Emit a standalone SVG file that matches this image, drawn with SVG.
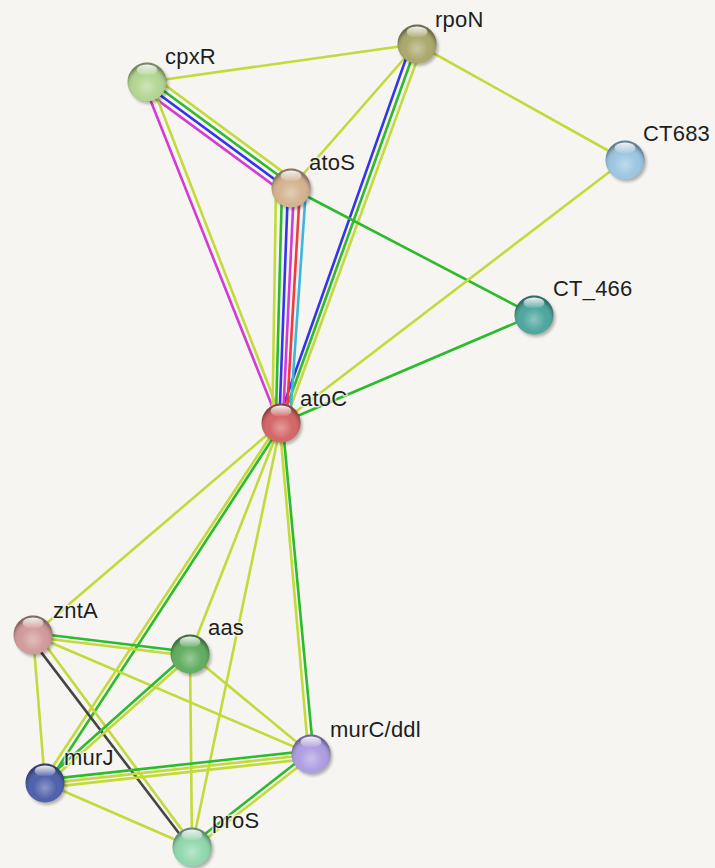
<svg xmlns="http://www.w3.org/2000/svg" width="715" height="868" viewBox="0 0 715 868">
<defs>
<style>
.e line{stroke-width:2.6;fill:none;stroke-linecap:round}
.Y{stroke:#c3da3a}
.G{stroke:#2bbb2b}
.B{stroke:#3434ee}
.M{stroke:#d23cd2}
.R{stroke:#f43a3a}
.C{stroke:#3db6de}
.K{stroke:#454545}
.lbl{font-family:"Liberation Sans",Arial,sans-serif;font-size:22px;fill:#1e1e1e;letter-spacing:0.2px;paint-order:stroke;stroke:#f6f5f1;stroke-opacity:0.75;stroke-width:3px}
.shade{fill:url(#shade)}
.hl{fill:url(#hl)}
.sh{fill:#000;opacity:0.28;filter:url(#blur)}
</style>
<radialGradient id="shade" cx="0.5" cy="0.62" r="0.55">
<stop offset="0" stop-color="#fff" stop-opacity="0.35"/>
<stop offset="0.55" stop-color="#fff" stop-opacity="0"/>
<stop offset="0.85" stop-color="#000" stop-opacity="0.08"/>
<stop offset="1" stop-color="#000" stop-opacity="0.35"/>
</radialGradient>
<linearGradient id="hl" x1="0" y1="0" x2="0" y2="1">
<stop offset="0" stop-color="#fff" stop-opacity="0.95"/>
<stop offset="1" stop-color="#fff" stop-opacity="0.05"/>
</linearGradient>
<filter id="blur" x="-50%" y="-50%" width="200%" height="200%"><feGaussianBlur stdDeviation="1.6"/></filter>
</defs>
<rect width="715" height="868" fill="#f6f5f1"/>
<g id="edges" class="e">
<line class="Y" x1="147" y1="82" x2="417" y2="44"/>
<line class="Y" x1="151.9" y1="75.4" x2="295.9" y2="181.4"/>
<line class="G" x1="148.6" y1="79.8" x2="292.6" y2="185.8"/>
<line class="B" x1="145.4" y1="84.2" x2="289.4" y2="190.2"/>
<line class="M" x1="142.1" y1="88.6" x2="286.1" y2="194.6"/>
<line class="M" x1="143.7" y1="83.3" x2="279.1" y2="423.7"/>
<line class="Y" x1="150.3" y1="80.7" x2="282.9" y2="422.3"/>
<line class="Y" x1="417" y1="44" x2="291" y2="188"/>
<line class="B" x1="411.8" y1="42.1" x2="277.7" y2="421.8"/>
<line class="G" x1="417" y1="44" x2="281" y2="423"/>
<line class="Y" x1="422.2" y1="45.9" x2="284.3" y2="424.2"/>
<line class="Y" x1="417" y1="44" x2="625" y2="160"/>
<line class="Y" x1="276" y1="187.4" x2="272.3" y2="422.6"/>
<line class="G" x1="282" y1="187.6" x2="275.8" y2="422.8"/>
<line class="B" x1="288" y1="187.9" x2="279.3" y2="422.9"/>
<line class="M" x1="294" y1="188.1" x2="282.8" y2="423.1"/>
<line class="R" x1="300" y1="188.4" x2="286.3" y2="423.2"/>
<line class="C" x1="306" y1="188.6" x2="289.8" y2="423.4"/>
<line class="G" x1="291" y1="188" x2="534" y2="315"/>
<line class="Y" x1="625" y1="160" x2="281" y2="423"/>
<line class="G" x1="534" y1="315" x2="281" y2="423"/>
<line class="Y" x1="281" y1="423" x2="33" y2="635"/>
<line class="Y" x1="279.7" y1="422.2" x2="42.9" y2="781.6"/>
<line class="G" x1="282.3" y1="423.8" x2="47.1" y2="784.4"/>
<line class="Y" x1="281" y1="423" x2="190" y2="654"/>
<line class="Y" x1="281" y1="423" x2="192" y2="847"/>
<line class="Y" x1="279.5" y1="423.1" x2="308.5" y2="754.2"/>
<line class="G" x1="282.5" y1="422.9" x2="313.5" y2="753.8"/>
<line class="G" x1="33.2" y1="633.0" x2="190.2" y2="652.0"/>
<line class="Y" x1="32.8" y1="637.0" x2="189.8" y2="656.0"/>
<line class="Y" x1="33" y1="635" x2="45" y2="783"/>
<line class="K" x1="29.8" y1="637.4" x2="190.4" y2="848.2"/>
<line class="Y" x1="36.2" y1="632.6" x2="193.6" y2="845.8"/>
<line class="Y" x1="33" y1="635" x2="311" y2="754"/>
<line class="G" x1="188.7" y1="652.5" x2="43.7" y2="781.5"/>
<line class="Y" x1="191.3" y1="655.5" x2="46.3" y2="784.5"/>
<line class="Y" x1="190" y1="654" x2="192" y2="847"/>
<line class="Y" x1="190" y1="654" x2="311" y2="754"/>
<line class="G" x1="44.6" y1="779.6" x2="310.6" y2="750.6"/>
<line class="Y" x1="45.0" y1="783.6" x2="311.0" y2="754.6"/>
<line class="Y" x1="45.4" y1="787.6" x2="311.4" y2="758.6"/>
<line class="Y" x1="45" y1="783" x2="192" y2="847"/>
<line class="G" x1="309.6" y1="752.2" x2="190.6" y2="845.2"/>
<line class="Y" x1="312.4" y1="755.8" x2="193.4" y2="848.8"/>
</g>
<g id="node-cpxR"><circle class="sh" cx="149" cy="84.5" r="19.5"/><circle cx="147" cy="82" r="19.5" fill="#b3d693"/><circle class="shade" cx="147" cy="82" r="19.5"/><ellipse class="hl" cx="147" cy="70" rx="10.5" ry="5.5"/><text class="lbl" x="165" y="64">cpxR</text></g>
<g id="node-rpoN"><circle class="sh" cx="419" cy="46.5" r="19.5"/><circle cx="417" cy="44" r="19.5" fill="#aca96c"/><circle class="shade" cx="417" cy="44" r="19.5"/><ellipse class="hl" cx="417" cy="32" rx="10.5" ry="5.5"/><text class="lbl" x="435" y="27">rpoN</text></g>
<g id="node-atoS"><circle class="sh" cx="293" cy="190.5" r="19.5"/><circle cx="291" cy="188" r="19.5" fill="#d4b391"/><circle class="shade" cx="291" cy="188" r="19.5"/><ellipse class="hl" cx="291" cy="176" rx="10.5" ry="5.5"/><text class="lbl" x="309" y="170">atoS</text></g>
<g id="node-CT683"><circle class="sh" cx="627" cy="162.5" r="19.5"/><circle cx="625" cy="160" r="19.5" fill="#9cc6e2"/><circle class="shade" cx="625" cy="160" r="19.5"/><ellipse class="hl" cx="625" cy="148" rx="10.5" ry="5.5"/><text class="lbl" x="643" y="141">CT683</text></g>
<g id="node-CT_466"><circle class="sh" cx="536" cy="317.5" r="19.5"/><circle cx="534" cy="315" r="19.5" fill="#4ea79f"/><circle class="shade" cx="534" cy="315" r="19.5"/><ellipse class="hl" cx="534" cy="303" rx="10.5" ry="5.5"/><text class="lbl" x="553" y="296">CT_466</text></g>
<g id="node-atoC"><circle class="sh" cx="283" cy="425.5" r="19.5"/><circle cx="281" cy="423" r="19.5" fill="#d46767"/><circle class="shade" cx="281" cy="423" r="19.5"/><ellipse class="hl" cx="281" cy="411" rx="10.5" ry="5.5"/><text class="lbl" x="300" y="406">atoC</text></g>
<g id="node-zntA"><circle class="sh" cx="35" cy="637.5" r="19.5"/><circle cx="33" cy="635" r="19.5" fill="#d29b9b"/><circle class="shade" cx="33" cy="635" r="19.5"/><ellipse class="hl" cx="33" cy="623" rx="10.5" ry="5.5"/><text class="lbl" x="53" y="618">zntA</text></g>
<g id="node-aas"><circle class="sh" cx="192" cy="656.5" r="19.5"/><circle cx="190" cy="654" r="19.5" fill="#62ae62"/><circle class="shade" cx="190" cy="654" r="19.5"/><ellipse class="hl" cx="190" cy="642" rx="10.5" ry="5.5"/><text class="lbl" x="208" y="635">aas</text></g>
<g id="node-murJ"><circle class="sh" cx="47" cy="785.5" r="19.5"/><circle cx="45" cy="783" r="19.5" fill="#4f61ab"/><circle class="shade" cx="45" cy="783" r="19.5"/><ellipse class="hl" cx="45" cy="771" rx="10.5" ry="5.5"/><text class="lbl" x="64" y="765">murJ</text></g>
<g id="node-murC"><circle class="sh" cx="313" cy="756.5" r="19.5"/><circle cx="311" cy="754" r="19.5" fill="#ae9ee2"/><circle class="shade" cx="311" cy="754" r="19.5"/><ellipse class="hl" cx="311" cy="742" rx="10.5" ry="5.5"/><text class="lbl" x="330" y="737">murC/ddl</text></g>
<g id="node-proS"><circle class="sh" cx="194" cy="849.5" r="19.5"/><circle cx="192" cy="847" r="19.5" fill="#92d8ae"/><circle class="shade" cx="192" cy="847" r="19.5"/><ellipse class="hl" cx="192" cy="835" rx="10.5" ry="5.5"/><text class="lbl" x="212" y="828">proS</text></g>
</svg>
